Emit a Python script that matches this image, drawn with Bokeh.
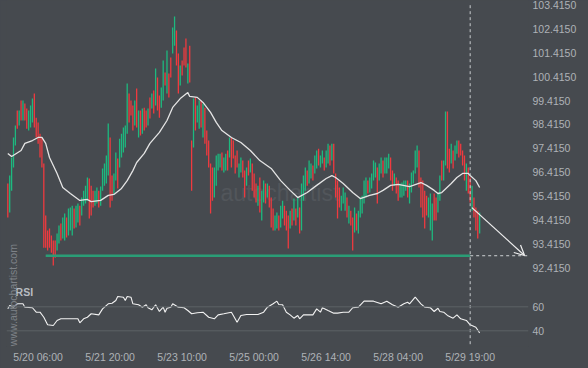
import numpy as np
from bokeh.plotting import figure
from bokeh.models import Range1d, FixedTicker, Span, Arrow, OpenHead, ColumnDataSource
from bokeh.embed import file_html
from bokeh.resources import INLINE
from bokeh.core.properties import value

# ---------------- data ----------------
opens = [
    95.94, 94.72, 95.64, 96.61, 97.53, 99.00, 98.37, 99.42, 98.58, 99.29,
    99.08, 98.16, 98.29, 98.50, 99.71, 98.70, 98.50, 98.03, 97.87, 96.78,
    94.60, 93.97, 94.05, 93.76, 93.55, 93.55, 93.13, 93.42, 94.26, 93.63,
    93.55, 94.51, 93.76, 93.97, 93.76, 94.89, 94.09, 94.30, 95.01, 94.60,
    95.01, 95.10, 95.22, 96.15, 95.85, 95.64, 95.01, 95.10, 95.64, 95.01,
    95.64, 95.85, 95.94, 96.27, 97.87, 96.27, 95.52, 96.06, 96.99, 96.61,
    97.03, 97.24, 97.45, 98.03, 99.71, 99.42, 99.21, 98.37, 99.92, 97.87,
    99.00, 98.03, 99.12, 99.00, 98.37, 99.54, 99.08, 99.84, 99.21, 100.38,
    99.63, 99.12, 99.42, 100.59, 99.71, 100.55, 101.22, 101.39, 101.72, 102.35,
    101.39, 100.05, 101.10, 101.64, 102.02, 100.13, 101.72, 97.74, 97.45, 99.54,
    98.50, 98.24, 99.42, 97.87, 99.12, 98.16, 97.74, 96.78, 96.61, 95.35,
    95.85, 96.48, 96.61, 97.24, 96.40, 96.48, 97.32, 97.03, 97.87, 97.74,
    97.11, 97.32, 96.19, 96.40, 96.90, 96.48, 95.85, 96.90, 96.40, 96.78,
    96.36, 95.94, 95.01, 96.19, 94.39, 95.14, 95.94, 95.35, 95.85, 95.35,
    94.89, 93.97, 94.05, 94.60, 94.09, 94.47, 95.01, 94.80, 94.60, 94.05,
    94.89, 94.39, 94.89, 94.51, 94.93, 93.97, 95.22, 95.64, 96.48, 95.94,
    96.15, 96.69, 96.36, 96.57, 97.40, 96.61, 96.78, 97.03, 96.61, 96.78,
    97.53, 96.90, 97.61, 96.36, 96.06, 95.77, 94.80, 95.10, 94.80, 95.35,
    94.26, 94.80, 94.51, 93.88, 94.68, 93.84, 94.51, 94.68, 95.10, 95.35,
    96.06, 95.56, 95.73, 96.06, 96.19, 96.61, 96.06, 96.36, 96.90, 96.36,
    96.36, 96.57, 97.03, 96.48, 95.85, 96.19, 96.06, 95.35, 95.35, 95.43,
    95.64, 96.06, 95.10, 95.56, 95.94, 96.36, 96.61, 97.32, 96.19, 96.06,
    95.64, 95.43, 94.51, 93.97, 93.55, 95.52, 95.35, 94.72, 95.22, 96.90,
    96.06, 96.69, 98.96, 97.40, 96.78, 97.32, 96.90, 97.19, 97.74, 97.61,
    97.32, 97.11, 95.64, 96.61, 96.19, 94.80, 95.35, 94.93, 94.80, 93.84,
]
closes = [
    94.51, 96.27, 97.03, 97.87, 98.37, 98.24, 99.00, 98.58, 99.42, 98.58,
    98.24, 99.00, 99.21, 99.50, 98.29, 97.87, 97.61, 97.03, 96.61, 93.25,
    93.25, 93.13, 93.25, 93.04, 92.50, 92.83, 93.84, 94.18, 93.55, 94.51,
    94.68, 93.67, 94.89, 94.93, 95.01, 94.05, 95.01, 95.10, 94.18, 95.35,
    95.64, 95.85, 96.19, 94.47, 94.60, 94.93, 95.64, 95.77, 94.93, 95.81,
    96.57, 96.78, 97.11, 98.45, 94.93, 95.22, 96.36, 97.24, 95.73, 97.82,
    98.03, 98.29, 98.37, 100.13, 98.50, 98.79, 98.16, 99.42, 98.29, 99.00,
    97.95, 99.08, 98.16, 98.29, 99.08, 98.66, 99.71, 98.87, 100.76, 99.00,
    98.70, 99.96, 101.10, 100.05, 101.52, 99.54, 100.38, 102.48, 102.94, 100.89,
    99.71, 100.89, 100.47, 100.89, 100.80, 100.97, 100.17, 95.64, 99.50, 98.16,
    99.21, 99.42, 98.29, 99.29, 97.61, 97.11, 96.61, 94.68, 95.22, 96.61,
    97.11, 97.19, 97.19, 96.48, 97.03, 97.19, 96.48, 97.87, 96.61, 96.99,
    96.36, 96.61, 96.78, 97.03, 96.19, 95.35, 96.61, 96.27, 96.99, 95.64,
    95.35, 95.14, 95.85, 94.72, 95.64, 96.06, 95.10, 95.94, 94.93, 94.09,
    93.97, 94.60, 94.72, 93.97, 95.01, 95.22, 94.18, 93.97, 93.21, 94.80,
    94.18, 95.31, 94.18, 95.35, 93.84, 95.94, 96.27, 96.61, 95.85, 96.90,
    96.78, 96.06, 97.11, 97.32, 96.69, 97.11, 97.32, 96.48, 97.32, 97.61,
    96.69, 97.61, 96.36, 95.35, 94.47, 94.93, 95.43, 95.77, 95.56, 94.51,
    95.01, 94.18, 93.13, 94.93, 93.97, 94.80, 95.35, 95.43, 96.06, 96.19,
    95.52, 96.19, 96.36, 96.90, 96.82, 95.10, 96.78, 97.03, 96.19, 97.03,
    97.03, 97.19, 96.06, 95.64, 96.36, 95.52, 95.22, 95.94, 95.98, 96.06,
    96.06, 95.35, 95.94, 96.40, 96.48, 97.32, 97.53, 95.77, 94.93, 94.51,
    94.05, 94.60, 95.35, 95.52, 95.10, 94.39, 94.39, 95.56, 96.27, 96.06,
    96.90, 98.96, 96.57, 96.40, 97.61, 96.57, 97.53, 97.74, 97.03, 97.11,
    96.69, 96.06, 96.78, 95.52, 95.14, 95.85, 94.51, 93.97, 93.63, 94.72,
]

ma_idx = [0, 2, 7, 9, 13, 16, 18, 20, 22, 26, 29, 33, 38, 42, 44, 49, 53, 56, 60, 63,
          66, 68, 72, 75, 80, 84, 87, 91, 95, 96, 100, 103, 107, 110, 113, 118, 123, 128, 133, 139,
          144, 149, 153, 158, 163, 168, 171, 173, 177, 182, 186, 191, 195, 198, 202, 206, 212, 218, 221, 225,
          227, 229, 234, 237, 240, 243, 244, 247, 249]
ma_val = [97.20, 97.07, 97.32, 97.62, 97.74, 97.87, 97.87, 97.62, 97.03, 96.36,
          95.77, 95.52, 95.23, 95.27, 95.18, 95.23, 95.44, 95.48, 95.73, 96.06,
          96.48, 96.82, 97.20, 97.62, 98.08, 98.58, 99.13, 99.50, 99.75, 99.59,
          99.55, 99.34, 98.92, 98.50, 98.16, 97.87, 97.66, 97.32, 96.90, 96.57,
          96.06, 95.65, 95.35, 95.56, 95.86, 96.15, 96.27, 96.19, 95.94, 95.56,
          95.31, 95.44, 95.52, 95.65, 95.86, 95.90, 95.81, 95.98, 95.86, 95.65,
          95.52, 95.56, 95.94, 96.19, 96.36, 96.36, 96.27, 96.06, 95.77]

rsi_idx = [0, 1, 3, 5, 8, 9, 13, 15, 17, 19, 21, 24, 26, 28, 37, 38, 40, 42, 44, 48,
           50, 53, 55, 57, 58, 61, 62, 63, 65, 66, 69, 71, 73, 74, 76, 78, 80, 82, 83, 84,
           86, 87, 90, 93, 95, 97, 100, 103, 106, 109, 111, 114, 118, 119, 121, 123, 126, 132, 135, 137,
           140, 142, 143, 145, 147, 149, 151, 153, 154, 156, 161, 163, 165, 166, 169, 172, 174, 177, 180, 182,
           185, 188, 190, 193, 197, 200, 203, 206, 209, 211, 212, 215, 218, 220, 223, 225, 227, 228, 230, 232,
           235, 237, 239, 242, 244, 247, 249]
rsi_val = [58.3, 61.1, 59.7, 62.5, 62.5, 59.7, 59.2, 55.5, 55.5, 51.3, 45.0, 44.4, 48.6, 50.0, 50.0, 46.7, 50.0, 51.3, 54.2, 53.3,
           58.3, 62.5, 63.0, 65.3, 68.6, 68.0, 65.3, 68.6, 68.0, 62.5, 61.7, 59.7, 61.7, 59.2, 57.5, 61.7, 56.1, 59.7, 55.5, 58.8,
           59.7, 62.5, 59.7, 59.2, 56.9, 54.2, 55.0, 55.5, 51.3, 50.0, 53.3, 54.2, 55.5, 52.8, 47.2, 52.8, 53.6, 53.6, 55.5, 59.7,
           62.5, 64.7, 61.9, 61.7, 55.5, 53.3, 50.5, 52.8, 50.0, 53.3, 53.3, 58.3, 55.5, 59.2, 56.9, 54.7, 54.7, 55.5, 55.5, 59.2,
           59.7, 64.7, 64.7, 64.7, 62.5, 64.7, 61.7, 59.7, 62.5, 63.8, 62.5, 68.0, 62.5, 59.7, 59.2, 56.1, 58.8, 56.1, 55.5, 52.8,
           50.5, 53.3, 50.0, 48.6, 45.0, 43.0, 38.3]

time_tick_idx = [16, 54, 92, 130, 168, 206, 244]
time_tick_labels = ["5/20 06:00", "5/21 20:00", "5/23 10:00", "5/25 00:00",
                    "5/26 14:00", "5/28 04:00", "5/29 19:00"]
price_ticks = [92.415, 93.415, 94.415, 95.415, 96.415, 97.415, 98.415,
               99.415, 100.415, 101.415, 102.415, 103.415]
rsi_ticks = [40, 60]

support_level = 92.91
support_start_idx = 20
pattern_end_idx = 244
forecast_start = (244.9, 94.93)
forecast_end = (272.7, 92.92)

# ---------------- style ----------------
BG = "#464a4f"
GREEN = "#1db97f"
RED = "#f03a3f"
LABEL = "#aeb2b7"
FONT = "Liberation Sans"

x_range = Range1d(-0.69, 274.78)
y_range = Range1d(89.105, 103.612)
rsi_range = Range1d(26.92, 315.25)

p = figure(width=588, height=368, output_backend="svg", toolbar_location=None,
           title=None, x_range=x_range, y_range=y_range, y_axis_location="right",
           min_border_left=6, min_border_right=60, min_border_top=0, min_border_bottom=22,
           background_fill_color=BG, border_fill_color=BG, outline_line_color=None)
p.extra_y_ranges = {"rsi": rsi_range}

idx = np.arange(len(opens))
o = np.array(opens)
c = np.array(closes)
src = ColumnDataSource(dict(
    x=idx, top=np.maximum(o, c), bottom=np.minimum(o, c),
    color=[GREEN if cc >= oo else RED for oo, cc in zip(opens, closes)]))

# watermark
p.text(x=[112.2], y=[95.56], text=["autochartist"], text_font=value(FONT),
       text_font_size="23px", text_color="#52565b", text_baseline="alphabetic",
       text_align="left")

p.vbar(x="x", width=0.68, top="top", bottom="bottom", fill_color="color",
       line_color=None, source=src)

p.line(ma_idx, ma_val, line_color="#e4e4e4", line_width=1.3)

# RSI panel
for r in rsi_ticks:
    p.add_layout(Span(location=r, dimension="width", y_range_name="rsi",
                      line_color="#5c6166", line_width=1))
p.line(rsi_idx, rsi_val, y_range_name="rsi", line_color="#f2f2f2", line_width=1.1)
p.text(x=[4.1], y=[72.75], y_range_name="rsi", text=["RSI"], text_font=value(FONT),
       text_font_size="10.5px", text_font_style="bold", text_color="#b8bcc1",
       text_baseline="middle", text_align="left")
p.text(x=[2.5], y=[27.2], y_range_name="rsi", text=["www.autochartist.com"],
       angle=np.pi / 2, text_font=value(FONT), text_font_size="10.5px",
       text_color="#7e8288", text_baseline="middle", text_align="left")

# support level and forecast
p.line([support_start_idx, pattern_end_idx], [support_level, support_level],
       line_color="#2a9d76", line_width=2.5)
p.segment(x0=[pattern_end_idx], y0=[support_level], x1=[x_range.end], y1=[support_level],
          line_color="#d0d3d6", line_width=1, line_dash="3 3")
p.segment(x0=[pattern_end_idx], y0=[price_ticks[-1]], x1=[pattern_end_idx], y1=[y_range.start],
          line_color="#c8cbcf", line_width=1, line_dash="3 3")
p.add_layout(Arrow(end=OpenHead(size=10, line_color="#f0f0f0", line_width=1.2),
                   x_start=forecast_start[0], y_start=forecast_start[1],
                   x_end=forecast_end[0], y_end=forecast_end[1],
                   line_color="#f0f0f0", line_width=1.2))

# axes
span_p = y_range.end - y_range.start
span_r = rsi_range.end - rsi_range.start
rsi_pos = [y_range.start + (r - rsi_range.start) / span_r * span_p for r in rsi_ticks]
overrides = {t: f"{t:.4f}" for t in price_ticks}
for pos, r in zip(rsi_pos, rsi_ticks):
    overrides[pos] = str(r)
p.yaxis.ticker = FixedTicker(ticks=price_ticks + rsi_pos)
p.yaxis.major_label_overrides = overrides
p.xaxis.ticker = FixedTicker(ticks=time_tick_idx)
p.xaxis.major_label_overrides = {t: l for t, l in zip(time_tick_idx, time_tick_labels)}
for ax in (p.xaxis, p.yaxis):
    ax.axis_line_color = None
    ax.major_tick_line_color = None
    ax.minor_tick_line_color = None
    ax.major_tick_out = 0
    ax.major_tick_in = 0
    ax.major_label_standoff = 4
    ax.major_label_text_color = LABEL
    ax.major_label_text_font = FONT
    ax.major_label_text_font_size = "10.5px"
p.xgrid.grid_line_color = None
p.ygrid.grid_line_color = None

html = file_html(p, INLINE, title="chart")
html = html.replace("</head>",
                    "<style>html,body{margin:0;padding:0;background:%s;overflow:hidden}</style></head>" % BG, 1)
open("out.html", "w").write(html)
